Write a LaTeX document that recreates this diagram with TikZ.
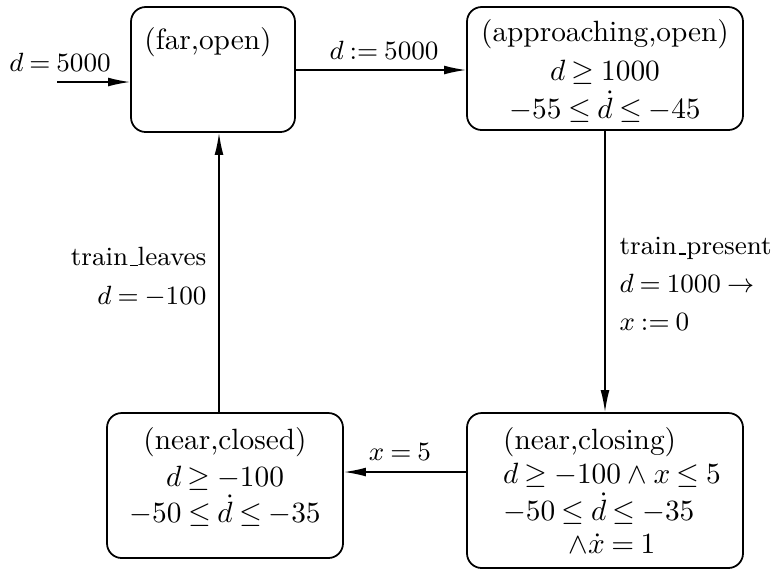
\documentclass[tikz,border=0pt]{standalone}
\usetikzlibrary{arrows.meta,positioning}
\newcommand{\us}{\leavevmode\kern.06em\vbox{\hrule width.3em}}
\tikzset{
  state/.style={draw, rounded corners=5pt, line width=0.6pt},
  trans/.style={-{Latex[length=7.5pt,width=3pt]}, line width=0.5pt},
  lab/.style={inner sep=0pt},
  elab/.style={inner sep=0pt, font=\small},
}
\begin{document}
\thickmuskip=4mu plus 3mu
\begin{tikzpicture}[x=0.341pt,y=-0.341pt]
\def\PX{0.341pt}
\useasboundingbox (0,0) rectangle (771,571);
\node[state, minimum width=164*\PX, minimum height=125*\PX] (far) at (213,69.5) {};
\node[state, minimum width=276*\PX, minimum height=123*\PX] (appr) at (605,68.5) {};
\node[state, minimum width=276*\PX, minimum height=155*\PX] (closing) at (605,490.5) {};
\node[state, minimum width=236*\PX, minimum height=145*\PX] (closed) at (225,485.5) {};
\node[lab] (farT) at (208,42) {(far,open)};
\node[lab, align=center] (apprT) at (605,71) {(approaching,open)\\[1pt] $d\geq 1000$\\[1pt] $-55\leq\dot{d}\leq -45$};
\node[lab] (closingT) at (612,495) {\renewcommand{\arraystretch}{0.95}\begin{tabular}{@{}l@{}}(near,closing)\\ $d\geq -100\wedge x\leq 5$\\ $-50\leq\dot{d}\leq -35$\\ \multicolumn{1}{@{}c@{}}{$\wedge\dot{x}=1$}\end{tabular}};
\node[lab, align=center] (closedT) at (225,477) {(near,closed)\\[0.5pt] $d\geq -100$\hspace*{8pt}\\[0.5pt] $-50\leq\dot{d}\leq -35$};
\coordinate (in) at (57,82);
\draw[trans] (in) -- (in -| far.west);
\node[elab] (inL) at (60,62) {$d=5000$};
\coordinate (r1) at (380,70);
\draw[trans] (r1 -| far.east) -- (r1 -| appr.west);
\node[elab] (r1L) at (384,50) {$d:=5000$};
\draw[trans] (appr.south) -- (closing.north);
\node[elab, align=left, anchor=west] (presL) at (619,284) {train\us present\\[2pt] $d=1000\rightarrow$\\[2pt] $x:=0$};
\coordinate (r2) at (400,472);
\draw[trans] (r2 -| closing.west) -- (r2 -| closed.east);
\node[elab] (r2L) at (400,452) {$x=5$};
\coordinate (r3) at (219,300);
\draw[trans] (r3 |- closed.north) -- (r3 |- far.south);
\node[elab, align=right, anchor=east] (leavL) at (207,277) {train\us leaves\\[2pt] $d=-100$};
\end{tikzpicture}
\end{document}
